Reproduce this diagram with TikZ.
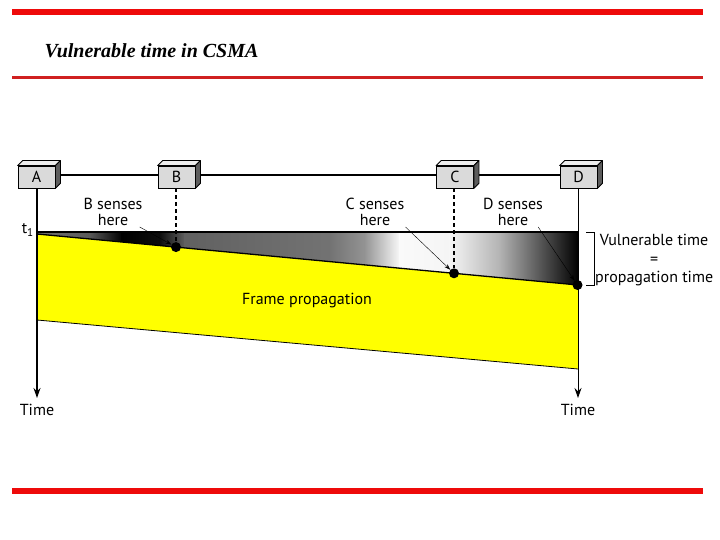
\documentclass[tikz,border=0pt]{standalone}
\usepackage{fontspec}
\setmainfont{Liberation Serif}
\newfontfamily\lblfont{PT Sans}
\usetikzlibrary{positioning,calc,arrows.meta}
\definecolor{slidered}{HTML}{EE0A0A}
\definecolor{slidedarkred}{HTML}{D02020}
\definecolor{frameyellow}{HTML}{FFFF00}
\definecolor{boxfront}{HTML}{DADADA}
\definecolor{boxtop}{HTML}{EDEDED}
\definecolor{boxside}{HTML}{5C5C5C}

\begin{document}
\begin{tikzpicture}[
    x=1pt, y=-1pt,
    % Estilos
    station/.style={draw, thick, fill=boxfront, minimum width=37pt, minimum height=22pt, inner sep=0pt, font=\lblfont\fontsize{16}{16}\selectfont},
    boxface/.style={draw, thick, line join=round},
    bus/.style={line width=2pt},
    axis/.style={line width=1.3pt, -{Stealth[length=10pt, width=7pt]}},
    sense/.style={line width=1.4pt, dash pattern=on 4pt off 3pt},
    pointer/.style={thin, -{Stealth[length=6pt, width=4pt]}},
    dot/.style={circle, fill=black, minimum size=10pt, inner sep=0pt},
    edge/.style={line width=1.3pt},
    lbl/.style={font=\lblfont\fontsize{16}{16}\selectfont, align=center, inner sep=1pt},
    rule/.style={line width=#1},
    title/.style={font=\bfseries\itshape\fontsize{20}{20}\selectfont}
]
\useasboundingbox (0,0) rectangle (720,540);

% --- MARCO (Reglas y titulo) ---
\draw[rule=5.5pt, slidered]    (12,12)  -- (703,12);
\draw[rule=3pt,   slidedarkred] (12,78) -- (703,78);
\draw[rule=5.5pt, slidered]    (12,491) -- (703,491);
\node[title, anchor=base west] (ttl) at (41,58) {Vulnerable time in CSMA};

% --- ZONAS (Trama y tiempo vulnerable) ---
\fill[frameyellow] (37,234) -- (578,285) -- (578,369) -- (37,320) -- cycle;
\begin{scope}
  \clip (37,232) -- (578,232) -- (578,285) -- (37,234) -- cycle;
  \foreach \xa/\xb/\ca/\cb in {37/90/black!55/black!65, 90/122/black!65/black, 122/160/black/black!95,
      160/185/black!95/black!62, 185/330/black!62/black!55, 330/365/black!55/black!42,
      365/400/black!42/black!2, 400/450/black!2/black!4, 450/500/black!4/black!30, 500/578/black!30/black}
    \shade[left color=\ca, right color=\cb] (\xa-0.4,230) rectangle (\xb+0.4,287);
\end{scope}
\draw[edge] (37,232) -- (578,232);
\draw[edge] (37,234) -- (578,285);
\draw[thick] (37,320) -- (578,369);

% --- ESTACIONES (Nodos) ---
\node[station] (nA) at (36.5,177) {A};
\node[station] (nB) at (176.5,177) {B};
\node[station] (nC) at (455,177) {C};
\node[station] (nD) at (578.5,177) {D};

\draw[bus] ([yshift=2pt]nA.east) -- ([yshift=2pt]nB.west);
\draw[bus] ([yshift=2pt]nB.east) -- ([yshift=2pt]nC.west);
\draw[bus] ([yshift=2pt]nC.east) -- ([yshift=2pt]nD.west);

\foreach \n in {nA,nB,nC,nD}{
  \filldraw[boxface, fill=boxtop] (\n.north west) -- ++(5,-5) -- ([shift={(5,-5)}]\n.north east) -- (\n.north east) -- cycle;
  \filldraw[boxface, fill=boxside] (\n.north east) -- ++(5,-5) -- ([shift={(5,-5)}]\n.south east) -- (\n.south east) -- cycle;
}

% --- EJES DE TIEMPO ---
\coordinate (tA) at (37,398);
\coordinate (tD) at (578,398);
\draw[axis] (nA.south -| tA) -- (tA);
\draw[axis, line width=1pt] (nD.south -| tD) -- (tD);
\node[lbl, below=5pt of tA] (timeA) {Time};
\node[lbl, below=5pt of tD] (timeD) {Time};
\node[lbl, anchor=east] (tone) at (35,230) {t\textsubscript{1}};

% --- PUNTOS DE DETECCION ---
\node[dot] (sB) at (176,247.1) {};
\node[dot] (sC) at (454,273.3) {};
\node[dot] (sD) at (577.5,285) {};
\draw[sense] (nB.south -| sB) -- (sB);
\draw[sense] (nC.south -| sC) -- (sC);

\node[lbl] (lB) at (113,212) {B senses\\here};
\node[lbl] (lC) at (375,212) {C senses\\here};
\node[lbl] (lD) at (513,212) {D senses\\here};
\draw[pointer] ([xshift=-4pt]lB.south east) -- (sB);
\draw[pointer] ([xshift=0pt]lC.south east) -- (sC);
\draw[pointer] ([xshift=-6pt]lD.south east) -- (sD);

% --- ETIQUETADO ---
\draw[thick] (586,232) -- (594,232) -- (594,285) -- (586,285);
\node[lbl, right=0pt of {$(594,234)!0.5!(594,287)$}, font=\lblfont\fontsize{16}{18.5}\selectfont] (vt) {Vulnerable time\\=\\propagation time};
\node[lbl] (fp) at (307,301) {Frame propagation};

\end{tikzpicture}
\end{document}
